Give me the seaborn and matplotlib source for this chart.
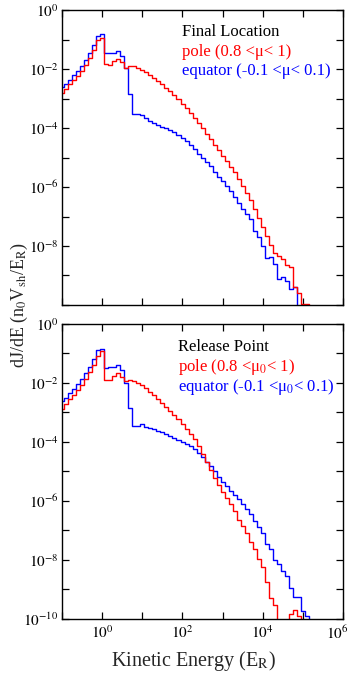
import numpy as np
import pandas as pd
import matplotlib
matplotlib.use("Agg")
import matplotlib.pyplot as plt
import matplotlib.transforms as mtransforms
from matplotlib.ticker import NullLocator, FixedLocator, FixedFormatter
import seaborn as sns

# ---- data (log10 values; -12 = below the axis) ----
log_energy = [-1.0, -0.9, -0.8, -0.7, -0.6, -0.5, -0.4, -0.3, -0.2, -0.1,
              0.0, 0.1, 0.2, 0.3, 0.4, 0.5, 0.6, 0.7, 0.8, 0.9,
              1.0, 1.1, 1.2, 1.3, 1.4, 1.5, 1.6, 1.7, 1.8, 1.9,
              2.0, 2.1, 2.2, 2.3, 2.4, 2.5, 2.6, 2.7, 2.8, 2.9,
              3.0, 3.1, 3.2, 3.3, 3.4, 3.5, 3.6, 3.7, 3.8, 3.9,
              4.0, 4.1, 4.2, 4.3, 4.4, 4.5, 4.6, 4.7, 4.8, 4.9,
              5.0, 5.1, 5.2, 5.3]

final_pole = [-2.80, -2.68, -2.52, -2.38, -2.22, -2.05, -1.85, -1.62, -1.36, -1.02,
              -0.93, -1.83, -1.86, -1.73, -1.65, -1.76, -1.95, -1.90, -1.89, -1.95,
              -2.02, -2.10, -2.20, -2.30, -2.40, -2.51, -2.63, -2.76, -2.89, -3.03,
              -3.18, -3.33, -3.50, -3.67, -3.84, -4.01, -4.19, -4.38, -4.57, -4.76,
              -4.95, -5.13, -5.31, -5.50, -5.72, -5.95, -6.20, -6.45, -6.75, -7.05,
              -7.35, -7.65, -7.95, -8.25, -8.35, -8.45, -8.65, -8.70, -9.40, -9.60,
              -9.95, -9.95, -12, -12]

final_equator = [-2.62, -2.50, -2.36, -2.21, -2.05, -1.88, -1.68, -1.45, -1.18, -0.88,
                 -0.82, -1.47, -1.45, -1.44, -1.38, -1.55, -1.98, -2.83, -3.51, -3.52,
                 -3.56, -3.65, -3.75, -3.82, -3.88, -3.95, -4.00, -4.08, -4.15, -4.23,
                 -4.33, -4.45, -4.58, -4.72, -4.88, -5.02, -5.15, -5.30, -5.48, -5.65,
                 -5.80, -5.98, -6.15, -6.35, -6.55, -6.75, -6.92, -7.10, -7.50, -7.70,
                 -7.99, -8.39, -8.37, -8.62, -9.13, -9.05, -9.20, -9.47, -9.40, -12,
                 -12, -12, -12, -12]

release_pole = [-2.88, -2.72, -2.55, -2.40, -2.24, -2.06, -1.86, -1.64, -1.38, -1.08,
                -0.93, -1.89, -1.89, -1.76, -1.68, -1.80, -1.95, -1.92, -1.93, -2.00,
                -2.08, -2.18, -2.30, -2.42, -2.55, -2.68, -2.82, -2.96, -3.10, -3.24,
                -3.38, -3.55, -3.73, -3.92, -4.15, -4.42, -4.70, -4.97, -5.22, -5.47,
                -5.70, -5.90, -6.12, -6.35, -6.65, -6.85, -7.10, -7.40, -7.65, -7.98,
                -8.25, -8.74, -9.30, -9.53, -12, -12, -12, -9.85, -9.72, -9.90,
                -12, -12, -12, -12]

release_equator = [-2.62, -2.50, -2.36, -2.21, -2.05, -1.88, -1.68, -1.45, -1.18, -0.90,
                   -0.86, -1.50, -1.48, -1.46, -1.40, -1.55, -2.00, -2.85, -3.45, -3.46,
                   -3.40, -3.50, -3.52, -3.55, -3.62, -3.66, -3.72, -3.80, -3.86, -3.93,
                   -4.00, -4.06, -4.15, -4.25, -4.38, -4.52, -4.68, -4.82, -4.98, -5.18,
                   -5.35, -5.50, -5.66, -5.82, -5.95, -6.10, -6.28, -6.45, -6.68, -6.90,
                   -7.10, -7.45, -7.65, -8.00, -8.15, -8.38, -8.55, -8.95, -9.25, -9.25,
                   -9.75, -9.90, -12, -12]

x_decades = [-1, 0, 1, 2, 3, 4, 5, 6]
x_labeled = [0, 2, 4, 6]
y_decades = [-10, -9, -8, -7, -6, -5, -4, -3, -2, -1, 0]
y_labeled_top = [0, -2, -4, -6, -8]
y_labeled_bottom = [0, -2, -4, -6, -8, -10]

titles = ["Final Location", "Release Point"]
pole_labels = ["pole (0.8 <\u03bc< 1)", "pole (0.8 <\u03bc$_{0}$< 1)"]
equator_labels = ["equator (-0.1 <\u03bc< 0.1)", "equator (-0.1 <\u03bc$_{0}$< 0.1)"]

# ---- style ----
sns.set_theme(style="ticks")
plt.rcParams["font.family"] = ["Liberation Serif", "DejaVu Serif"]
plt.rcParams["mathtext.fontset"] = "stix"

df = pd.DataFrame({
    "E": 10.0 ** np.array(log_energy),
    "final_pole": 10.0 ** np.array(final_pole),
    "final_equator": 10.0 ** np.array(final_equator),
    "release_pole": 10.0 ** np.array(release_pole),
    "release_equator": 10.0 ** np.array(release_equator),
})

fig, axes = plt.subplots(2, 1, figsize=(3.5, 6.74), dpi=100)
fig.subplots_adjust(left=0.177, right=0.98, top=0.985, bottom=0.082, hspace=0.064)

panels = [("final_pole", "final_equator"), ("release_pole", "release_equator")]
text_x = [0.427, 0.413]
text_y = [(0.925, 0.859, 0.793), (0.921, 0.855, 0.787)]

for i, ax in enumerate(axes):
    ax.set_xscale("log")
    ax.set_yscale("log")
    pcol, ecol = panels[i]
    sns.lineplot(data=df, x="E", y=ecol, ax=ax, color="#0000ff", lw=1.0,
                 drawstyle="steps-mid", estimator=None, sort=False)
    sns.lineplot(data=df, x="E", y=pcol, ax=ax, color="#ff0000", lw=1.0,
                 drawstyle="steps-mid", estimator=None, sort=False)
    ax.set_xlim(10.0 ** x_decades[0], 10.0 ** x_decades[-1])
    ax.set_ylim(10.0 ** y_decades[0], 10.0 ** y_decades[-1])

    ax.xaxis.set_major_locator(FixedLocator([10.0 ** k for k in x_decades]))
    ax.yaxis.set_major_locator(FixedLocator([10.0 ** k for k in y_decades]))
    ax.xaxis.set_minor_locator(NullLocator())
    ax.yaxis.set_minor_locator(NullLocator())

    if i == 1:
        xl = [r"$10^{%d}$" % k if k in x_labeled else "" for k in x_decades]
        yl_set = y_labeled_bottom
    else:
        xl = ["" for k in x_decades]
        yl_set = y_labeled_top
    yl = [r"$10^{%d}$" % k if k in yl_set else "" for k in y_decades]
    ax.xaxis.set_major_formatter(FixedFormatter(xl))
    ax.yaxis.set_major_formatter(FixedFormatter(yl))

    ax.tick_params(which="both", direction="in", top=True, right=True,
                   length=5, width=0.9, labelsize=11, colors="black", pad=2.5)
    ax.tick_params(axis="x", pad=4)
    for s in ax.spines.values():
        s.set_color("black")
        s.set_linewidth(1.0)
    ax.set_xlabel("")
    ax.set_ylabel("")

    ax.text(text_x[i], text_y[i][0], titles[i], transform=ax.transAxes,
            fontsize=12, color="black", va="center", ha="left")
    ax.text(text_x[i], text_y[i][1], pole_labels[i], transform=ax.transAxes,
            fontsize=12, color="#ff0000", va="center", ha="left")
    ax.text(text_x[i], text_y[i][2], equator_labels[i], transform=ax.transAxes,
            fontsize=12, color="#0000ff", va="center", ha="left")

# keep the last x tick label inside the figure, as in the reference
fig.canvas.draw()
last = axes[1].get_xticklabels()[-1]
last.set_transform(last.get_transform() +
                   mtransforms.ScaledTranslation(-6 / 100, 0, fig.dpi_scale_trans))

fig.text(0.056, 0.547, r"dJ/dE (n$_{0}$V$_{\mathrm{sh}}$/E$_{\mathrm{R}}$)",
         rotation=90, ha="center", va="center", fontsize=13)
fig.text(0.553, 0.02, r"Kinetic Energy (E$_{\mathrm{R}}$)",
         ha="center", va="center", fontsize=14.5)

fig.savefig("out.png", dpi=100)
